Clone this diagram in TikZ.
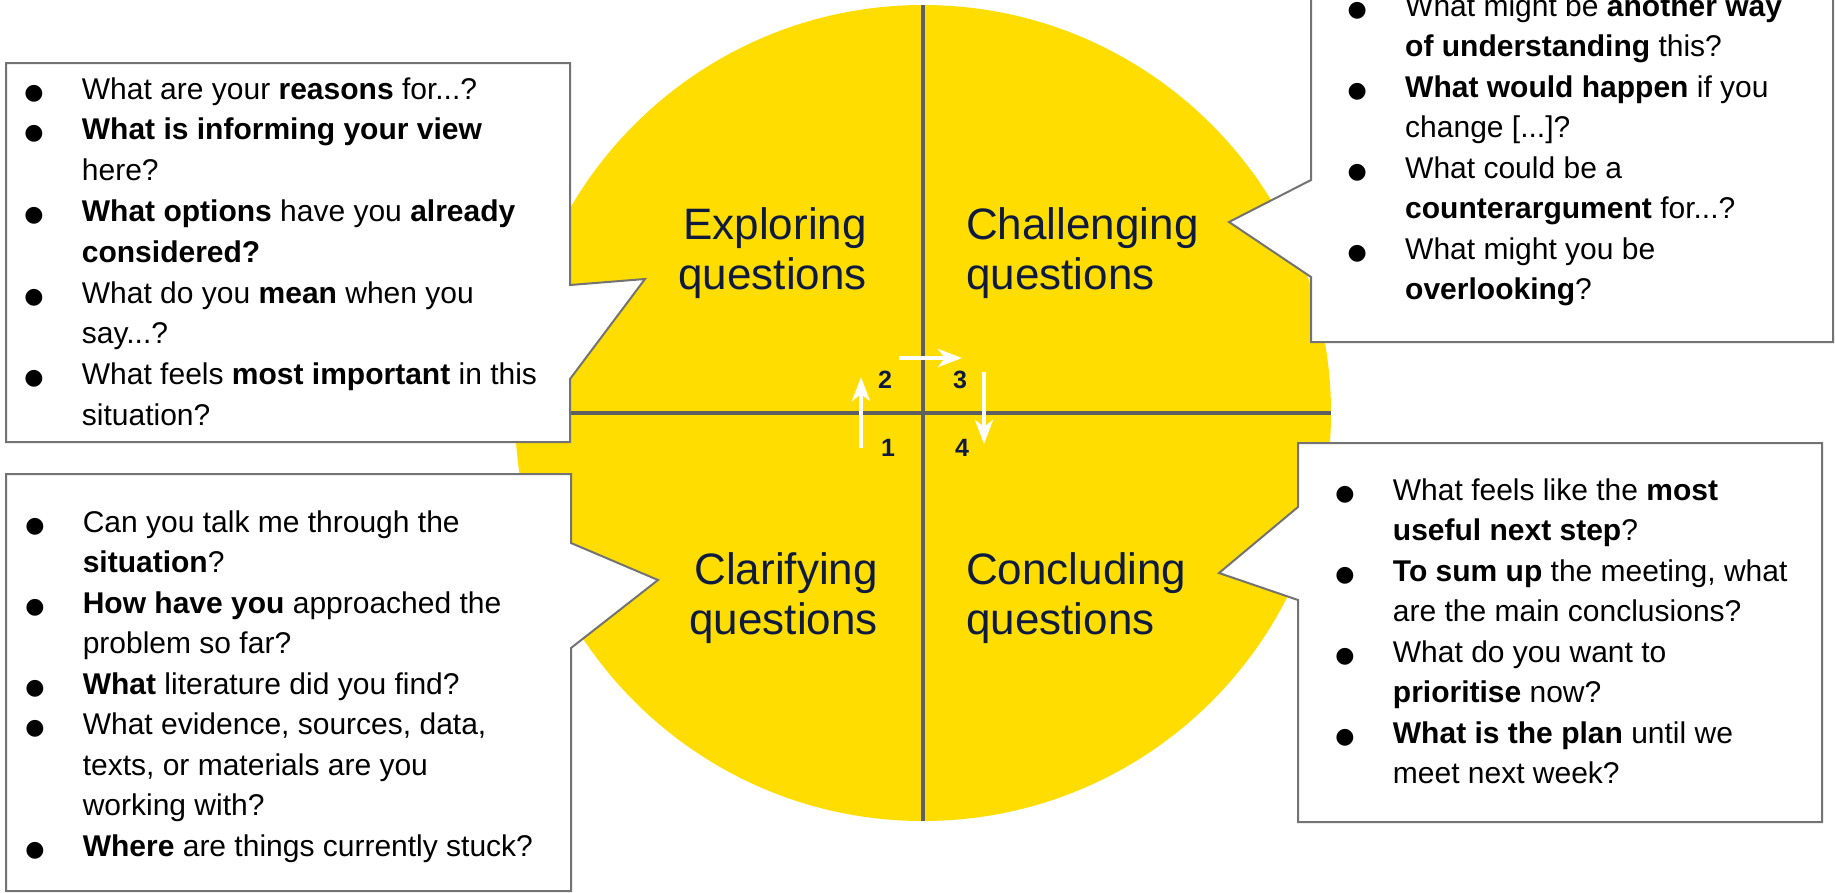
\documentclass[tikz,border=0pt]{standalone}
\usepackage{fontspec}
\setmainfont{Liberation Sans}
\newfontfamily\dejavu{DejaVu Sans}
\usetikzlibrary{arrows.meta}
\definecolor{qyellow}{RGB}{255,221,0}
\definecolor{qnavy}{RGB}{14,27,62}
\definecolor{qline}{RGB}{95,95,95}
\definecolor{qborder}{RGB}{115,115,115}
\newcommand\qb{{\dejavu\fontsize{22}{22}\selectfont ●}}
\newcommand\qlist[2][40.5]{\fontsize{30}{#1}\selectfont\begin{tabular}[t]{@{}p{57.5pt}@{}l@{}}#2\end{tabular}}
\newcommand\qlab[2]{\fontsize{44}{50}\selectfont\begin{tabular}[t]{@{}#1@{}}#2\end{tabular}}
\tikzset{
  callout/.style={draw=qborder, line width=2pt, fill=white, line join=miter},
  listtext/.style={anchor=base west, inner sep=0pt, text=black},
  qlabel/.style={inner sep=0pt, text=qnavy},
  qnum/.style={inner sep=0pt, text=qnavy, font=\fontsize{25}{25}\selectfont\bfseries},
  cross/.style={draw=qline, line width=3.5pt},
  flow/.style={draw=white, line width=4pt, -{Stealth[length=24pt,width=18pt,inset=7pt]}}
}
\begin{document}
\begin{tikzpicture}[x=1pt,y=-1pt]
\path[use as bounding box] (0,0) rectangle (1835,892);
\clip (0,0) rectangle (1835,892);
% disc and cross
\node[circle, fill=qyellow, minimum size=816pt, inner sep=0pt] (disc) at (923,413) {};
\draw[cross] (disc.north) -- (disc.south);
\draw[cross] (disc.west) -- (disc.east);
% arrows
\coordinate (a1s) at (861,448);
\coordinate (a1e) at (861,377);
\coordinate (a2s) at (899,358);
\coordinate (a2e) at (962,358);
\coordinate (a3s) at (984,372);
\coordinate (a3e) at (984,444);
\draw[flow] (a1s) -- (a1e);
\draw[flow] (a2s) -- (a2e);
\draw[flow] (a3s) -- (a3e);
% numbers
\node[qnum] (n1) at (888,448) {1};
\node[qnum] (n2) at (885,380) {2};
\node[qnum] (n3) at (960,380) {3};
\node[qnum] (n4) at (962,448) {4};
% quadrant labels
\node[qlabel, anchor=base east] (explore) at (867,239.3) {\qlab{r}{Exploring\\questions}};
\node[qlabel, anchor=base west] (challenge) at (966,239.3) {\qlab{l}{Challenging\\questions}};
\node[qlabel, anchor=base east] (clarify) at (878,584.3) {\qlab{r}{Clarifying\\questions}};
\node[qlabel, anchor=base west] (conclude) at (966,584.3) {\qlab{l}{Concluding\\questions}};
% top-left callout
\draw[callout] (6,63) -- (570,63) -- (570,285) -- (645,279) -- (570,379) -- (570,442) -- (6,442) -- cycle;
\node[listtext] (tlq) at (24.2,99) {\qlist[40.8]{
\qb & What are your \textbf{reasons} for...?\\
\qb & \textbf{What is informing your view}\\
 & here?\\
\qb & \textbf{What options} have you \textbf{already}\\
 & \textbf{considered?}\\
\qb & What do you \textbf{mean} when you\\
 & say...?\\
\qb & What feels \textbf{most important} in this\\
 & situation?}};
% top-right callout
\draw[callout] (1311,-20) -- (1833,-20) -- (1833,342) -- (1311,342) -- (1311,277) -- (1229,222) -- (1311,180) -- cycle;
\node[listtext] (trq) at (1347.5,16) {\qlist{
\qb & What might be \textbf{another way}\\
 & \textbf{of understanding} this?\\
\qb & \textbf{What would happen} if you\\
 & change [...]?\\
\qb & What could be a\\
 & \textbf{counterargument} for...?\\
\qb & What might you be\\
 & \textbf{overlooking}?}};
% bottom-left callout
\draw[callout] (6,474) -- (571,474) -- (571,543) -- (658,580) -- (571,648) -- (571,891) -- (6,891) -- cycle;
\node[listtext] (blq) at (25.1,532) {\qlist{
\qb & Can you talk me through the\\
 & \textbf{situation}?\\
\qb & \textbf{How have you} approached the\\
 & problem so far?\\
\qb & \textbf{What} literature did you find?\\
\qb & What evidence, sources, data,\\
 & texts, or materials are you\\
 & working with?\\
\qb & \textbf{Where} are things currently stuck?}};
% bottom-right callout
\draw[callout] (1298,443) -- (1822,443) -- (1822,822) -- (1298,822) -- (1298,600) -- (1219,573) -- (1298,507) -- cycle;
\node[listtext] (brq) at (1335.2,500) {\qlist{
\qb & What feels like the \textbf{most}\\
 & \textbf{useful next step}?\\
\qb & \textbf{To sum up} the meeting, what\\
 & are the main conclusions?\\
\qb & What do you want to\\
 & \textbf{prioritise} now?\\
\qb & \textbf{What is the plan} until we\\
 & meet next week?}};
\end{tikzpicture}
\end{document}
